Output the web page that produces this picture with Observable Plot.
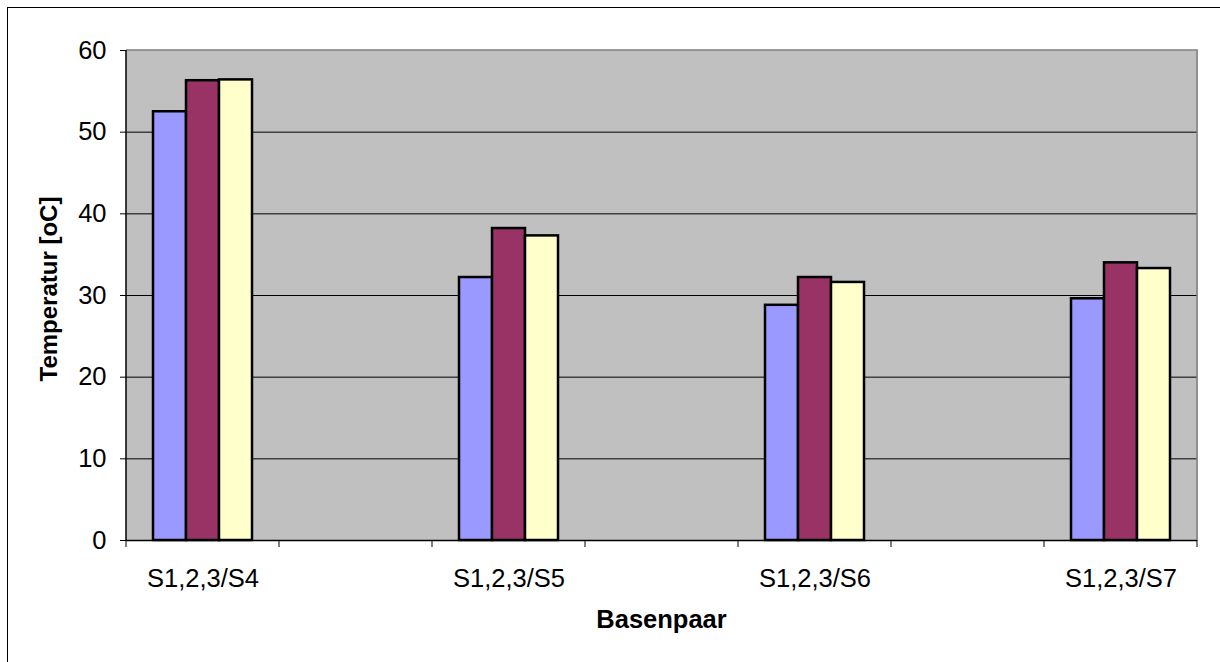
<!DOCTYPE html>
<html>
<head>
<meta charset="utf-8">
<script src="https://cdn.jsdelivr.net/npm/d3@7"></script>
<script src="https://cdn.jsdelivr.net/npm/@observablehq/plot@0.6"></script>
<style>
  html, body { margin: 0; padding: 0; background: #fff; overflow: hidden; }
  #chart svg { display: block; }
</style>
</head>
<body>
<div id="chart"></div>
<script>
// ---- data ----
const categories = ["S1,2,3/S4", "S1,2,3/S5", "S1,2,3/S6", "S1,2,3/S7"];
const gapSlots = ["gap1", "gap2", "gap3"];
const seriesNames = ["Reihe1", "Reihe2", "Reihe3"];
const reihe1 = [52.5, 32.2, 28.8, 29.6];
const reihe2 = [56.3, 38.2, 32.2, 34.0];
const reihe3 = [56.4, 37.3, 31.6, 33.3];
const yTicks = [0, 10, 20, 30, 40, 50, 60];
const seriesColors = ["#9999FF", "#993366", "#FFFFCC"];
const xTitle = "Basenpaar";
const yTitle = "Temperatur [oC]";

// ---- build table ----
const fxDomain = [categories[0], gapSlots[0], categories[1], gapSlots[1], categories[2], gapSlots[2], categories[3]];
const seriesValues = [reihe1, reihe2, reihe3];
const table = categories.flatMap((c, i) =>
  seriesNames.map((s, j) => ({cat: c, series: s, value: seriesValues[j][i]}))
);

const W = 1220, H = 662;
const FONT = "'Liberation Sans', Arial, Helvetica, sans-serif";

const plot = Plot.plot({
  width: W,
  height: H,
  marginLeft: 123,
  marginRight: 20,
  marginTop: 50,
  marginBottom: 122,
  style: {fontFamily: FONT, fontSize: "25.5px", background: "transparent", color: "#000"},
  fx: {
    domain: fxDomain, padding: 0, axis: "bottom", tickSize: 0, tickPadding: 28, label: null,
    tickFormat: d => categories.includes(d) ? d : ""
  },
  x: {domain: seriesNames, axis: null, paddingInner: 0, paddingOuter: 0.765},
  y: {domain: [0, 60], ticks: yTicks, tickSize: 6, tickPadding: 14, label: null},
  color: {domain: seriesNames, range: seriesColors},
  marks: [
    Plot.frame({fill: "#c0c0c0", stroke: "#c0c0c0"}),
    Plot.ruleY(yTicks.filter(t => t > 0 && t < 60), {stroke: "#000", strokeWidth: 1}),
    Plot.barY(table, {fx: "cat", x: "series", y: "value", fill: "series", stroke: "#000", strokeWidth: 2.5}),
    Plot.ruleY(fxDomain, {fx: d => d, y: 0, stroke: "#000", strokeWidth: 1.5})
  ]
});

document.getElementById("chart").appendChild(plot);

// ---- decorations from the library's scales ----
const svg = d3.select(plot);
const fx = plot.scale("fx");
const ys = plot.scale("y");
const left = fx.apply(fxDomain[0]);
const right = fx.apply(fxDomain[fxDomain.length - 1]) + fx.bandwidth;
const y0 = ys.apply(0);
const yTop = ys.apply(60);

const deco = svg.append("g");
// plot area top & right border (gray)
deco.append("path")
  .attr("d", `M${left},${yTop}H${right}V${y0}`)
  .attr("fill", "none").attr("stroke", "#808080").attr("stroke-width", 1.5);
// left axis line
deco.append("line")
  .attr("x1", left).attr("x2", left).attr("y1", yTop).attr("y2", y0 + 0.75)
  .attr("stroke", "#000").attr("stroke-width", 1.5);
// category boundary ticks
const bounds = fxDomain.map(d => fx.apply(d)).concat([right]);
deco.selectAll("line.bt").data(bounds).join("line")
  .attr("class", "bt")
  .attr("x1", d => d).attr("x2", d => d).attr("y1", y0).attr("y2", y0 + 7)
  .attr("stroke", "#000").attr("stroke-width", 1);
// outer chart border
deco.append("rect")
  .attr("x", 7.5).attr("y", 7.5).attr("width", W).attr("height", H)
  .attr("fill", "none").attr("stroke", "#000").attr("stroke-width", 1);
// axis titles
deco.append("text")
  .attr("x", (left + right) / 2).attr("y", 628)
  .attr("text-anchor", "middle")
  .style("font-family", FONT).style("font-size", "25.5px").style("font-weight", "bold")
  .text(xTitle);
deco.append("text")
  .attr("transform", `translate(57,289) rotate(-90)`)
  .attr("text-anchor", "middle")
  .style("font-family", FONT).style("font-size", "24px").style("font-weight", "bold")
  .text(yTitle);
</script>
</body>
</html>
